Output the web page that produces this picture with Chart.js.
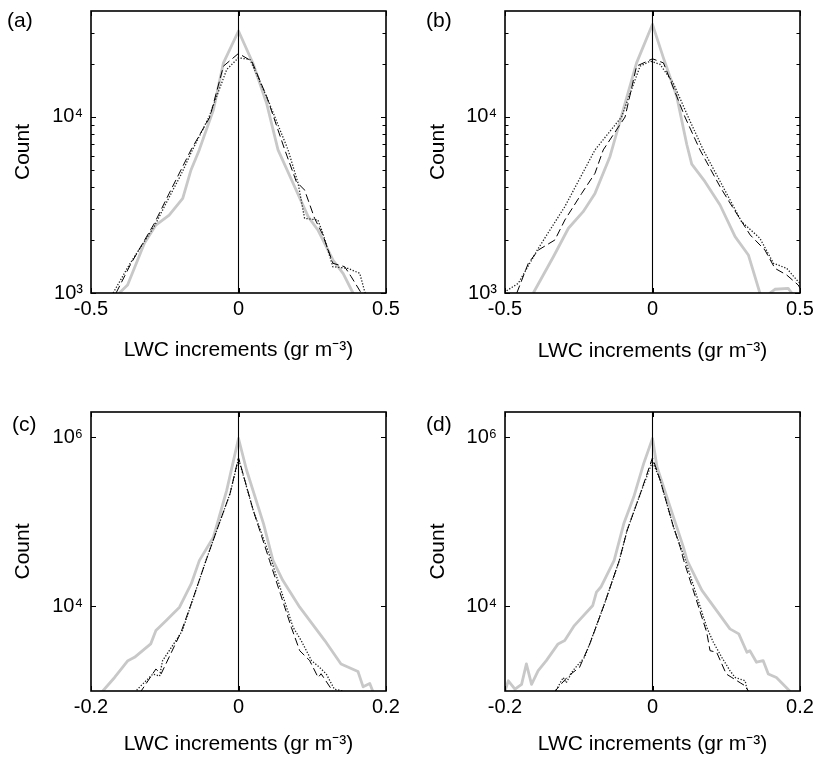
<!DOCTYPE html>
<html><head><meta charset="utf-8">
<script src="https://cdn.jsdelivr.net/npm/chart.js@4.4.1/dist/chart.umd.min.js"></script>
<style>
html,body{margin:0;padding:0;background:#fff;}
#wrap{position:relative;width:813px;height:758px;overflow:hidden;font-family:"Liberation Sans",Arial,sans-serif;}
canvas{position:absolute;}
.lbl{position:absolute;font-size:21px;color:#000;line-height:1;}
</style></head><body>
<div id="wrap">
<canvas id="ca" width="406" height="370" style="left:0;top:0"></canvas>
<canvas id="cb" width="407" height="370" style="left:406px;top:0"></canvas>
<canvas id="cc" width="406" height="388" style="left:0;top:370px"></canvas>
<canvas id="cd" width="407" height="388" style="left:406px;top:370px"></canvas>
<div class="lbl" style="left:7px;top:9px">(a)</div>
<div class="lbl" style="left:426px;top:9px">(b)</div>
<div class="lbl" style="left:12px;top:413px">(c)</div>
<div class="lbl" style="left:426px;top:413px">(d)</div>
</div>
<script>
// ---------- data (x = LWC increment, y = count) ----------
const X_TICKS_AB = [-0.5, 0, 0.5];
const X_LABELS_AB = ['-0.5', '0', '0.5'];
const X_TICKS_CD = [-0.2, 0, 0.2];
const X_LABELS_CD = ['-0.2', '0', '0.2'];
const Y_TICKS_AB = [1000, 10000];
const Y_LABELS_AB = ['10³', '10⁴'];
const Y_TICKS_CD = [10000, 1000000];
const Y_LABELS_CD = ['10⁴', '10⁶'];

const A_GRAY = [[-0.404,1000],[-0.376,1110],[-0.319,1915],[-0.280,2430],[-0.235,2770],[-0.189,3450],[-0.161,5000],[-0.133,6500],[-0.085,11000],[-0.051,20300],[0,30800],[0.05,20000],[0.095,12000],[0.134,6500],[0.185,4200],[0.236,2716],[0.269,2280],[0.320,1540],[0.355,1289],[0.388,1000],[0.40,900]];
const A_DASH = [[-0.415,1000],[-0.364,1475],[-0.285,2490],[-0.235,3680],[-0.195,5000],[-0.161,6500],[-0.097,10000],[-0.051,19450],[0,22960],[0.045,20750],[0.095,13120],[0.157,6500],[0.196,4290],[0.224,3846],[0.258,2655],[0.286,2138],[0.320,1475],[0.360,1410],[0.382,1238],[0.416,1000],[0.42,950]];
const A_DOT = [[-0.425,1000],[-0.37,1450],[-0.285,2400],[-0.235,3500],[-0.195,4700],[-0.16,6300],[-0.1,10000],[-0.04,18600],[0,21700],[0.039,21200],[0.1,12500],[0.168,6500],[0.202,4200],[0.224,2655],[0.269,2600],[0.286,2183],[0.320,1410],[0.371,1380],[0.411,1294],[0.428,1016],[0.435,950]];

const B_GRAY = [[-0.404,1000],[-0.336,1607],[-0.285,2333],[-0.235,2897],[-0.195,3680],[-0.144,5970],[-0.099,11000],[-0.054,20300],[0,33600],[0.037,21660],[0.082,13120],[0.116,7000],[0.133,5400],[0.178,4290],[0.229,3162],[0.28,2090],[0.325,1645],[0.364,1000],[0.38,700],[0.398,1000],[0.415,1050],[0.46,1063],[0.472,1000],[0.49,800]];
const B_DASH = [[-0.46,1000],[-0.421,1475],[-0.387,1754],[-0.359,1873],[-0.331,2000],[-0.297,2600],[-0.24,3680],[-0.195,4786],[-0.167,6500],[-0.093,10000],[-0.054,19450],[0,21400],[0.037,20300],[0.082,13120],[0.11,10000],[0.161,6500],[0.229,4018],[0.263,3236],[0.331,2138],[0.381,1754],[0.415,1381],[0.455,1265],[0.494,1110],[0.51,1000]];
const B_DOT = [[-0.51,980],[-0.5,1016],[-0.455,1135],[-0.387,1795],[-0.297,3100],[-0.195,6500],[-0.105,10000],[-0.042,19450],[-0.008,20750],[0.025,19950],[0.07,15630],[0.121,10000],[0.172,6500],[0.263,3375],[0.302,2540],[0.364,2047],[0.41,1475],[0.455,1381],[0.494,1160],[0.51,1100]];

const C_GRAY = [[-0.186,900],[-0.184,1000],[-0.168,1445],[-0.150,2285],[-0.141,2500],[-0.119,3610],[-0.112,5190],[-0.098,6820],[-0.080,9820],[-0.064,18600],[-0.053,35100],[-0.034,66000],[-0.016,236600],[0,972000],[0.011,409000],[0.034,95000],[0.0467,35100],[0.060,20400],[0.083,9810],[0.117,3950],[0.139,2090],[0.162,1700],[0.169,1120],[0.178,1230],[0.182,1000],[0.185,900]];
const C_DASH = [[-0.135,950],[-0.132,1000],[-0.112,1820],[-0.105,1590],[-0.078,4950],[-0.064,10800],[-0.044,35100],[-0.0296,79000],[-0.0115,216000],[0,578000],[0.020,137000],[0.042,35100],[0.0716,5680],[0.083,3000],[0.0965,2290],[0.108,1445],[0.112,1600],[0.126,1050],[0.128,1000]];
const C_DOT = [[-0.14,950],[-0.137,1050],[-0.116,1590],[-0.107,1500],[-0.103,2280],[-0.082,4310],[-0.076,5190],[-0.064,10800],[-0.044,35100],[-0.0296,79000],[-0.0115,216000],[0,560000],[0.020,137000],[0.0445,35100],[0.074,5680],[0.085,3950],[0.099,2290],[0.110,1900],[0.119,1590],[0.130,1050],[0.142,1000]];

const D_GRAY = [[-0.2,1000],[-0.1955,1320],[-0.1865,1050],[-0.1775,1200],[-0.171,2090],[-0.164,1200],[-0.155,1740],[-0.144,2290],[-0.128,3610],[-0.119,3950],[-0.106,5940],[-0.081,10280],[-0.076,14800],[-0.070,17000],[-0.052,35100],[-0.039,95000],[-0.0255,197000],[-0.012,490000],[0,970000],[0.0061,447000],[0.024,150000],[0.042,50000],[0.0469,35100],[0.067,15500],[0.087,8950],[0.105,5430],[0.117,4740],[0.128,2870],[0.132,3000],[0.141,2190],[0.150,2290],[0.157,1590],[0.168,1445],[0.186,1000],[0.19,900]];
const D_DASH = [[-0.134,950],[-0.132,1000],[-0.126,1150],[-0.114,1510],[-0.099,1900],[-0.085,3610],[-0.065,10800],[-0.045,35100],[-0.0345,79000],[-0.0165,216000],[0,578000],[0.0105,310000],[0.0285,87000],[0.0377,50000],[0.0423,35100],[0.0735,4950],[0.078,3000],[0.087,2870],[0.100,1590],[0.1075,1445],[0.119,1250],[0.1257,1150],[0.130,1000]];
const D_DOT = [[-0.133,950],[-0.130,1050],[-0.121,1445],[-0.117,1250],[-0.108,1740],[-0.092,2510],[-0.065,10800],[-0.045,35100],[-0.0345,79000],[-0.0165,216000],[0,520000],[0.0105,310000],[0.0285,87000],[0.0446,35100],[0.0735,5680],[0.0825,3770],[0.094,2500],[0.105,1740],[0.112,1445],[0.1257,1320],[0.128,1050],[0.130,950]];

const X_TITLE = 'LWC increments (gr m⁻³)';
const Y_TITLE = 'Count';

// ---------- rendering ----------
Chart.defaults.font.family = "'Liberation Sans', Arial, sans-serif";
Chart.defaults.color = '#000';

const boxPlugin = {
  id: 'matlabBox',
  afterDraw(chart, args, opts) {
    const {ctx, chartArea: {left, right, top, bottom}, scales: {x, y}} = chart;
    ctx.save();
    ctx.strokeStyle = '#000';
    ctx.lineWidth = 1;
    ctx.beginPath();
    y.ticks.forEach(t => {
      const py = Math.round(y.getPixelForValue(t.value)) + 0.5;
      ctx.moveTo(left, py); ctx.lineTo(left + 5, py);
      ctx.moveTo(right, py); ctx.lineTo(right - 5, py);
    });
    (opts.minor || []).forEach(v => {
      const py = Math.round(y.getPixelForValue(v)) + 0.5;
      ctx.moveTo(left, py); ctx.lineTo(left + 3.5, py);
      ctx.moveTo(right, py); ctx.lineTo(right - 3.5, py);
    });
    x.ticks.forEach(t => {
      const px = Math.round(x.getPixelForValue(t.value)) + 0.5;
      ctx.moveTo(px, bottom); ctx.lineTo(px, bottom - 5);
      ctx.moveTo(px, top); ctx.lineTo(px, top + 5);
    });
    ctx.stroke();
    ctx.lineWidth = 1.6;
    ctx.strokeRect(left, top, right - left, bottom - top);
    ctx.restore();
  }
};

function pts(arr) { return arr.map(p => ({x: p[0], y: p[1]})); }

function makeChart(id, p) {
  new Chart(document.getElementById(id), {
    type: 'line',
    data: {
      datasets: [
        {data: [{x: 0, y: p.ymin}, {x: 0, y: p.ymax}], borderColor: '#000', borderWidth: 1.1},
        {data: pts(p.dash), borderColor: '#000', borderWidth: 1, borderDash: [8, 4]},
        {data: pts(p.dot), borderColor: '#222', borderWidth: 1.3, borderDash: [1.3, 1.7]},
        {data: pts(p.gray), borderColor: '#c8c8c8', borderWidth: 2.8}
      ]
    },
    options: {
      responsive: false, animation: false,
      layout: {padding: {top: p.padTop, right: p.padRight, left: 0, bottom: 0}},
      elements: {point: {radius: 0}, line: {tension: 0, borderJoinStyle: 'round'}},
      datasets: {line: {clip: 0}},
      plugins: {legend: {display: false}, tooltip: {enabled: false}, matlabBox: {minor: p.minor}},
      scales: {
        x: {
          type: 'linear', min: p.xmin, max: p.xmax,
          afterBuildTicks: s => { s.ticks = p.xticks.map(v => ({value: v})); },
          ticks: {autoSkip: false, maxRotation: 0, padding: 4, font: {size: 20},
                  callback: (v, i) => p.xlabels[i]},
          grid: {display: false, drawTicks: false}, border: {display: false},
          title: {display: true, text: X_TITLE, font: {size: 21}, padding: {top: 0, bottom: p.xTitlePad}},
          afterFit: s => { s.height = p.xh; s.paddingLeft = 0; s.paddingRight = 0; }
        },
        y: {
          type: 'logarithmic', min: p.ymin, max: p.ymax,
          afterBuildTicks: s => { s.ticks = p.yticks.map(v => ({value: v})); },
          ticks: {autoSkip: false, padding: 8, font: {size: 20},
                  callback: (v, i) => p.ylabels[i]},
          grid: {display: false, drawTicks: false}, border: {display: false},
          title: {display: true, text: Y_TITLE, font: {size: 21}, padding: {top: p.yTitlePad, bottom: 0}},
          afterFit: s => { s.width = p.yw; s.paddingTop = 0; s.paddingBottom = 0; }
        }
      }
    },
    plugins: [boxPlugin]
  });
}

const MINOR_AB = [2000,3000,4000,5000,6000,7000,8000,9000,20000,30000];

makeChart('ca', {gray: A_GRAY, dash: A_DASH, dot: A_DOT, xmin: -0.5, xmax: 0.5, ymin: 1000, ymax: 40000,
  xticks: X_TICKS_AB, xlabels: X_LABELS_AB, yticks: Y_TICKS_AB, ylabels: Y_LABELS_AB, minor: MINOR_AB,
  padTop: 11, padRight: 20, xh: 77, yw: 91, xTitlePad: 7, yTitlePad: 11});
makeChart('cb', {gray: B_GRAY, dash: B_DASH, dot: B_DOT, xmin: -0.5, xmax: 0.5, ymin: 1000, ymax: 40000,
  xticks: X_TICKS_AB, xlabels: X_LABELS_AB, yticks: Y_TICKS_AB, ylabels: Y_LABELS_AB, minor: MINOR_AB,
  padTop: 11, padRight: 13, xh: 77, yw: 99, xTitlePad: 6, yTitlePad: 20});
makeChart('cc', {gray: C_GRAY, dash: C_DASH, dot: C_DOT, xmin: -0.2, xmax: 0.2, ymin: 1000, ymax: 2000000,
  xticks: X_TICKS_CD, xlabels: X_LABELS_CD, yticks: Y_TICKS_CD, ylabels: Y_LABELS_CD, minor: [],
  padTop: 42, padRight: 20, xh: 67, yw: 91, xTitlePad: 1, yTitlePad: 11});
makeChart('cd', {gray: D_GRAY, dash: D_DASH, dot: D_DOT, xmin: -0.2, xmax: 0.2, ymin: 1000, ymax: 2000000,
  xticks: X_TICKS_CD, xlabels: X_LABELS_CD, yticks: Y_TICKS_CD, ylabels: Y_LABELS_CD, minor: [],
  padTop: 42, padRight: 13, xh: 67, yw: 99, xTitlePad: 1, yTitlePad: 20});
</script>
</body></html>
